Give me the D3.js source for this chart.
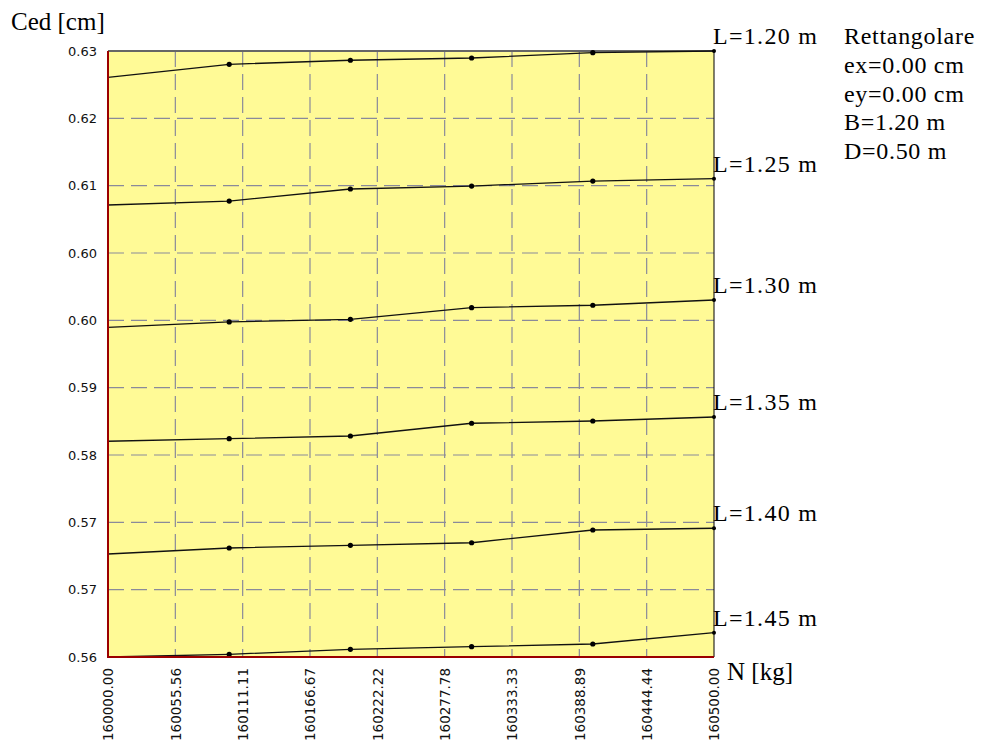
<!DOCTYPE html>
<html>
<head>
<meta charset="utf-8">
<script src="https://cdn.jsdelivr.net/npm/d3@7"></script>
<style>
  html, body { margin: 0; padding: 0; background: #ffffff; }
  svg { display: block; }
</style>
</head>
<body>
<svg id="chart" width="983" height="740"></svg>
<script>
// ---- data ----
const xValues = [160000, 160100, 160200, 160300, 160400, 160500];
const seriesNames = ["L=1.20 m", "L=1.25 m", "L=1.30 m", "L=1.35 m", "L=1.40 m", "L=1.45 m"];
const sL120 = [0.62696, 0.62846, 0.62893, 0.62919, 0.62981, 0.63000];
const sL125 = [0.61221, 0.61267, 0.61406, 0.61440, 0.61498, 0.61525];
const sL130 = [0.59808, 0.59870, 0.59901, 0.60035, 0.60063, 0.60124];
const sL135 = [0.58492, 0.58522, 0.58553, 0.58700, 0.58726, 0.58772];
const sL140 = [0.57190, 0.57259, 0.57290, 0.57320, 0.57467, 0.57487];
const sL145 = [0.56000, 0.56031, 0.56089, 0.56119, 0.56150, 0.56281];
const seriesValues = [sL120, sL125, sL130, sL135, sL140, sL145];

const xTickLabels = ["160000.00", "160055.56", "160111.11", "160166.67", "160222.22",
                     "160277.78", "160333.33", "160388.89", "160444.44", "160500.00"];
const yTickLabels = ["0.56", "0.57", "0.57", "0.58", "0.59", "0.60", "0.60", "0.61", "0.62", "0.63"];
const infoLines = ["Rettangolare", "ex=0.00 cm", "ey=0.00 cm", "B=1.20 m", "D=0.50 m"];
const yTitle = "Ced [cm]";
const xTitle = "N [kg]";
const xDomain = [160000, 160500];
const yDomain = [0.56, 0.63];

(function () {
// ---- layout ----
const pL = 108, pR = 714, pT = 51, pB = 657;
const svg = d3.select("#chart");

const x = d3.scaleLinear().domain(xDomain).range([pL, pR]);
const y = d3.scaleLinear().domain(yDomain).range([pB, pT]);

const nT = xTickLabels.length - 1;
const xTickValues = xTickLabels.map((d, i) => xDomain[0] + i * (xDomain[1] - xDomain[0]) / nT);
const yTickValues = yTickLabels.map((d, i) => yDomain[0] + i * (yDomain[1] - yDomain[0]) / (yTickLabels.length - 1));

// background
svg.append("rect")
  .attr("x", pL).attr("y", pT)
  .attr("width", pR - pL).attr("height", pB - pT)
  .attr("fill", "#FFFA96");

// grid
const grid = svg.append("g").attr("stroke", "#8a8a9a").attr("stroke-width", 1.2)
  .attr("stroke-dasharray", "16,7").attr("fill", "none");
xTickValues.slice(1, -1).forEach(v => {
  grid.append("line").attr("x1", x(v)).attr("x2", x(v)).attr("y1", pT).attr("y2", pB);
});
yTickValues.slice(1, -1).forEach(v => {
  grid.append("line").attr("x1", pL).attr("x2", pR).attr("y1", y(v)).attr("y2", y(v));
});

// borders
svg.append("line").attr("x1", pL).attr("x2", pR).attr("y1", pT).attr("y2", pT)
  .attr("stroke", "#666666").attr("stroke-width", 2);
svg.append("line").attr("x1", pR).attr("x2", pR).attr("y1", pT).attr("y2", pB)
  .attr("stroke", "#000000").attr("stroke-width", 1);

// series lines
const line = d3.line().x((d, i) => x(xValues[i])).y(d => y(d));
const series = svg.append("g");
seriesValues.forEach((vals, si) => {
  series.append("path").datum(vals)
    .attr("d", line)
    .attr("fill", "none")
    .attr("stroke", "#111111")
    .attr("stroke-width", 1.3);
  series.selectAll(null).data(vals.slice(1)).enter().append("circle")
    .attr("cx", (d, i) => x(xValues[i + 1]))
    .attr("cy", d => y(d))
    .attr("r", (d, i) => i === vals.length - 2 ? 2 : 2.6)
    .attr("fill", "#000000");
  svg.append("text")
    .attr("x", x(xValues[xValues.length - 1]) - 1)
    .attr("y", y(vals[vals.length - 1]) - 7)
    .attr("font-family", "'Liberation Serif', 'Times New Roman', serif")
    .attr("font-size", 24)
    .attr("letter-spacing", 1.3)
    .attr("fill", "#000")
    .text(seriesNames[si]);
});

// left & bottom axis lines (dark red)
svg.append("line").attr("x1", pL).attr("x2", pL).attr("y1", pT).attr("y2", pB + 1)
  .attr("stroke", "#9b0000").attr("stroke-width", 2);
svg.append("line").attr("x1", pL).attr("x2", pR).attr("y1", pB).attr("y2", pB)
  .attr("stroke", "#9b0000").attr("stroke-width", 2);

// y axis
const yAxis = d3.axisLeft(y).tickValues(yTickValues)
  .tickFormat((d, i) => yTickLabels[i]).tickSize(0).tickPadding(11);
const gy = svg.append("g").attr("transform", `translate(${pL},0)`).call(yAxis);
gy.select(".domain").remove();
gy.selectAll("text")
  .attr("font-family", "'DejaVu Sans', Tahoma, sans-serif")
  .attr("font-size", 13).attr("fill", "#111");

// x axis
const xAxis = d3.axisBottom(x).tickValues(xTickValues)
  .tickFormat((d, i) => xTickLabels[i]).tickSize(0);
const gx = svg.append("g").attr("transform", `translate(0,${pB})`).call(xAxis);
gx.select(".domain").remove();
gx.selectAll("text")
  .attr("transform", "rotate(-90)")
  .attr("x", -11).attr("y", 0).attr("dy", "0.35em")
  .attr("text-anchor", "end")
  .attr("font-family", "'DejaVu Sans', Tahoma, sans-serif")
  .attr("font-size", 13.5).attr("fill", "#111");

// titles
svg.append("text").attr("x", 11).attr("y", 30)
  .attr("font-family", "'Liberation Serif', 'Times New Roman', serif")
  .attr("font-size", 25).attr("fill", "#000").text(yTitle);
svg.append("text").attr("x", 727).attr("y", 680)
  .attr("font-family", "'Liberation Serif', 'Times New Roman', serif")
  .attr("font-size", 25).attr("fill", "#000").text(xTitle);

// info block
svg.append("g").selectAll("text").data(infoLines).enter().append("text")
  .attr("x", 844)
  .attr("y", (d, i) => 44 + i * 28.75)
  .attr("font-family", "'Liberation Serif', 'Times New Roman', serif")
  .attr("font-size", 24)
  .attr("letter-spacing", 0.7)
  .attr("fill", "#000")
  .text(d => d);
})();
</script>
</body>
</html>
